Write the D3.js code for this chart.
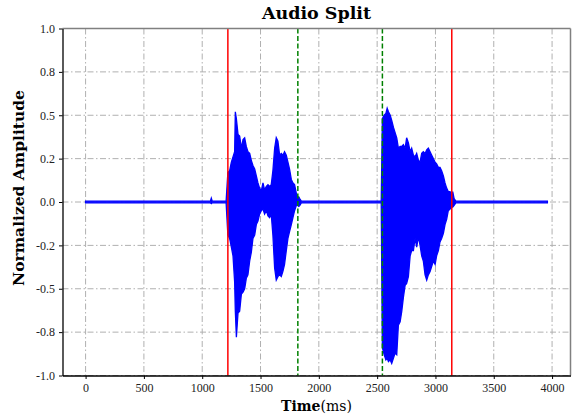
<!DOCTYPE html>
<html>
<head>
<meta charset="utf-8">
<script src="https://cdn.jsdelivr.net/npm/d3@7"></script>
<style>
  body { margin: 0; background: #fff; }
</style>
</head>
<body>
<svg width="575" height="416"></svg>
<script>
var svg = d3.select("svg");

// x ticks (ms) and y ticks (amplitude) with the labels the chart prints
var xTicks = [0, 500, 1000, 1500, 2000, 2500, 3000, 3500, 4000];
var yTicks = [1.0, 0.75, 0.5, 0.25, 0.0, -0.25, -0.5, -0.75, -1.0];
var yLabels = ["1.0", "0.8", "0.5", "0.2", "0.0", "-0.2", "-0.5", "-0.8", "-1.0"];

// split markers (ms)
var redMarks = [1220, 3140];
var greenMarks = [1820, 2545];

// waveform envelope: time (ms), top and bottom
var envTime = [0, 1070, 1078, 1086, 1205,
  1220, 1235, 1250, 1264, 1278, 1284, 1293, 1307, 1321, 1336, 1350, 1364,
  1378, 1392, 1407, 1421, 1435, 1450, 1464, 1478, 1492, 1507, 1521, 1535,
  1550, 1564, 1578, 1592, 1606, 1621, 1635, 1649, 1664, 1678, 1692, 1706,
  1721, 1735, 1749, 1764, 1778, 1792, 1807, 1818, 1828, 1836, 1850, 2535,
  2545, 2560, 2575, 2586, 2597, 2612, 2625, 2640, 2654, 2668, 2682, 2697,
  2711, 2725, 2740, 2753, 2768, 2783, 2796, 2811, 2825, 2839, 2854, 2868,
  2882, 2896, 2911, 2925, 2939, 2954, 2968, 2982, 2997, 3010, 3025, 3039,
  3053, 3068, 3082, 3096, 3110, 3125, 3139, 3148, 3160, 3175, 3960];
var envUpper = [0.005, 0.005, 0.022, 0.005, 0.005,
  0.17, 0.18, 0.23, 0.26, 0.29, 0.52, 0.48, 0.39, 0.38, 0.31, 0.36, 0.37,
  0.32, 0.29, 0.28, 0.24, 0.21, 0.19, 0.15, 0.11, 0.08, 0.065, 0.11, 0.07,
  0.09, 0.10, 0.09, 0.10, 0.18, 0.31, 0.37, 0.35, 0.27, 0.28, 0.27, 0.29,
  0.27, 0.23, 0.19, 0.13, 0.11, 0.10, 0.05, 0.03, 0.03, 0.02, 0.005, 0.005,
  0.48, 0.50, 0.51, 0.54, 0.52, 0.50, 0.47, 0.43, 0.40, 0.37, 0.31, 0.32,
  0.32, 0.33, 0.31, 0.37, 0.34, 0.29, 0.31, 0.27, 0.26, 0.28, 0.24, 0.23,
  0.28, 0.29, 0.28, 0.30, 0.31, 0.29, 0.27, 0.25, 0.23, 0.22, 0.20, 0.20,
  0.18, 0.15, 0.11, 0.08, 0.06, 0.06, 0.04, 0.06, 0.02, 0.005, 0.005];
var envLower = [-0.005, -0.005, -0.01, -0.005, -0.005,
  -0.19, -0.21, -0.26, -0.31, -0.46, -0.63, -0.78, -0.64, -0.63, -0.53, -0.52, -0.50,
  -0.44, -0.42, -0.34, -0.29, -0.21, -0.19, -0.13, -0.11, -0.07, -0.05, -0.04, -0.07,
  -0.05, -0.08, -0.09, -0.07, -0.19, -0.38, -0.45, -0.43, -0.42, -0.43, -0.40, -0.36,
  -0.28, -0.21, -0.17, -0.13, -0.09, -0.05, -0.02, -0.02, -0.025, -0.02, -0.005, -0.005,
  -0.84, -0.88, -0.91, -0.90, -0.92, -0.91, -0.93, -0.90, -0.87, -0.88, -0.71, -0.69,
  -0.63, -0.55, -0.48, -0.47, -0.43, -0.31, -0.28, -0.28, -0.21, -0.26, -0.20, -0.25,
  -0.31, -0.34, -0.42, -0.45, -0.42, -0.40, -0.37, -0.34, -0.36, -0.31, -0.28, -0.23,
  -0.21, -0.18, -0.13, -0.10, -0.05, -0.04, -0.03, -0.03, -0.02, -0.005, -0.005];

var plotLeft = 62.5, plotRight = 570.5, plotTop = 28.5, plotBottom = 375.5;

var x = d3.scaleLinear().domain([-198, 4158]).range([plotLeft, plotRight]);
var y = d3.scaleLinear().domain([-1, 1]).range([plotBottom, plotTop]);

// grid
var gridColor = "#b0b0b0";
var gridDash = "6,2.5,1.5,2.5";
svg.append("g").selectAll("line")
   .data(xTicks).join("line")
   .attr("x1", d => x(d)).attr("x2", d => x(d))
   .attr("y1", plotTop).attr("y2", plotBottom)
   .attr("stroke", gridColor).attr("stroke-width", 1)
   .attr("stroke-dasharray", gridDash);
svg.append("g").selectAll("line")
   .data(yTicks).join("line")
   .attr("x1", plotLeft).attr("x2", plotRight)
   .attr("y1", d => y(d)).attr("y2", d => y(d))
   .attr("stroke", gridColor).attr("stroke-width", 1)
   .attr("stroke-dasharray", gridDash);

// waveform
var env = envTime.map((t, i) => ({t: t, hi: envUpper[i], lo: envLower[i]}));
var area = d3.area()
  .x(d => x(d.t))
  .y0(d => y(d.lo))
  .y1(d => y(d.hi));
svg.append("path")
   .datum(env)
   .attr("d", area)
   .attr("fill", "#0000ff")
   .attr("stroke", "#0000ff")
   .attr("stroke-width", 1.3)
   .attr("stroke-linejoin", "miter");

// split lines
svg.append("g").selectAll("line")
   .data(redMarks).join("line")
   .attr("x1", d => x(d)).attr("x2", d => x(d))
   .attr("y1", plotTop).attr("y2", plotBottom)
   .attr("stroke", "#ff0000").attr("stroke-width", 1.5);
svg.append("g").selectAll("line")
   .data(greenMarks).join("line")
   .attr("x1", d => x(d)).attr("x2", d => x(d))
   .attr("y1", plotTop).attr("y2", plotBottom)
   .attr("stroke", "#008000").attr("stroke-width", 1.5)
   .attr("stroke-dasharray", "5,2.5");

// frame: grey top/right, black left/bottom
svg.append("line").attr("x1", plotLeft).attr("x2", plotRight).attr("y1", plotTop).attr("y2", plotTop)
   .attr("stroke", "#808080").attr("stroke-width", 1.5);
svg.append("line").attr("x1", plotRight).attr("x2", plotRight).attr("y1", plotTop).attr("y2", plotBottom)
   .attr("stroke", "#808080").attr("stroke-width", 1.5);

var xAxis = svg.append("g")
   .attr("transform", "translate(0," + plotBottom + ")")
   .call(d3.axisBottom(x).tickValues(xTicks).tickFormat(d3.format("d"))
         .tickSizeInner(3.5).tickSizeOuter(0).tickPadding(4));
var yAxis = svg.append("g")
   .attr("transform", "translate(" + plotLeft + ",0)")
   .call(d3.axisLeft(y).tickValues(yTicks).tickFormat((d, i) => yLabels[i])
         .tickSizeInner(3.5).tickSizeOuter(0).tickPadding(4));

[xAxis, yAxis].forEach(function(g) {
  g.attr("font-family", null).attr("font-size", null);
  g.select(".domain").attr("stroke", "#000").attr("stroke-width", 1.3);
  g.selectAll(".tick line").attr("stroke", "#000");
  g.selectAll(".tick text")
   .style("font-family", "'Liberation Serif', serif")
   .style("font-size", "12px")
   .attr("fill", "#222");
});

// title and labels
svg.append("text")
   .attr("x", (plotLeft + plotRight) / 2).attr("y", 18.5)
   .attr("text-anchor", "middle")
   .style("font-family", "'DejaVu Serif', serif")
   .style("font-size", "17.5px").style("font-weight", "bold")
   .text("Audio Split");

svg.append("text")
   .attr("transform", "translate(24,188) rotate(-90)")
   .attr("text-anchor", "middle")
   .style("font-family", "'DejaVu Serif', serif")
   .style("font-size", "15.5px").style("font-weight", "bold")
   .text("Normalized Amplitude");

var xl = svg.append("text")
   .attr("x", (plotLeft + plotRight) / 2).attr("y", 411)
   .attr("text-anchor", "middle")
   .style("font-family", "'DejaVu Serif', serif")
   .style("font-size", "14px");
xl.append("tspan").style("font-weight", "bold").text("Time");
xl.append("tspan").text("(ms)");
</script>
</body>
</html>
